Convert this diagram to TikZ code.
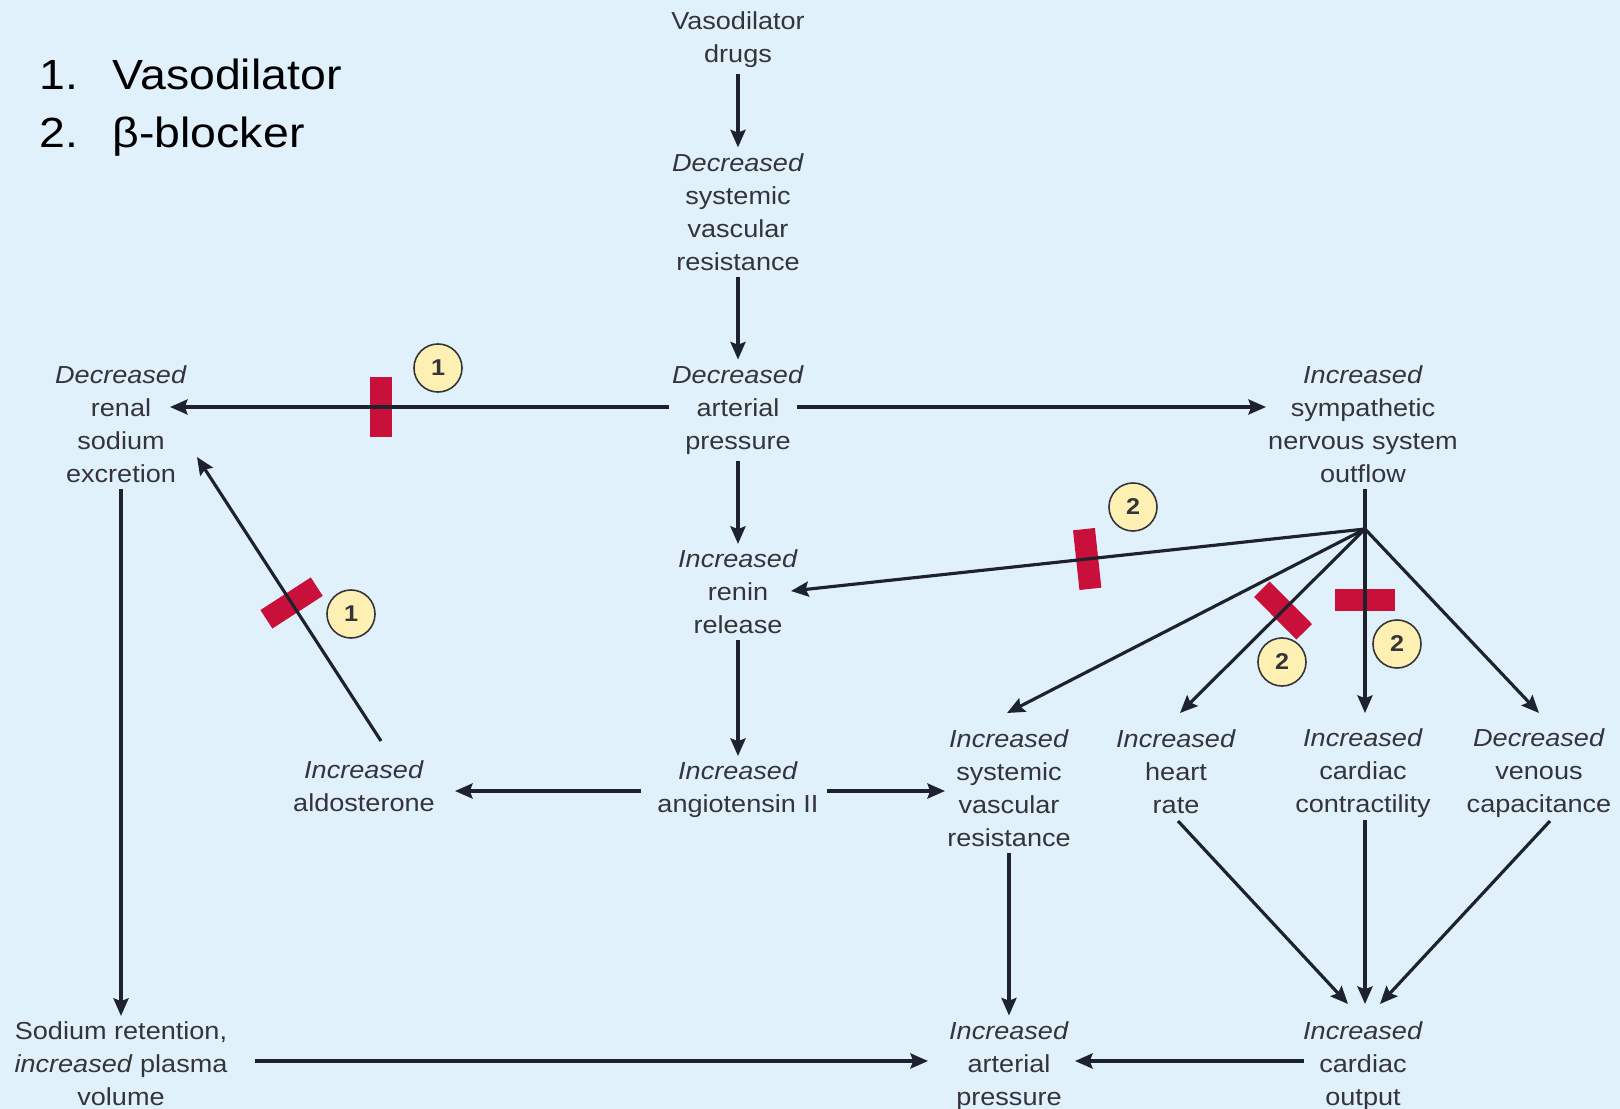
\documentclass[tikz,border=0pt]{standalone}
\usepackage{fontspec}
\setmainfont{Liberation Sans}[FakeStretch=1.1]
\usetikzlibrary{arrows.meta,calc}

\definecolor{bgblue}{RGB}{225,241,252}
\definecolor{txtgray}{RGB}{52,52,58}
\definecolor{arrowgray}{RGB}{30,34,44}
\definecolor{blockred}{RGB}{200,16,58}
\definecolor{badgefill}{RGB}{254,240,178}

\begin{document}
\begin{tikzpicture}[x=0.01cm, y=-0.01cm,
	box/.style={align=center, inner sep=1.5pt, inner xsep=3pt, text=txtgray, font=\fontsize{7}{9.4}\selectfont},
	arr/.style={draw=arrowgray, line width=0.9pt, -{Stealth[length=5pt,width=4.3pt,inset=0.8pt]}},
	link/.style={draw=arrowgray, line width=0.9pt},
	blockbar/.style={sloped, behind path, rectangle, fill=blockred, minimum width=0.22cm, minimum height=0.6cm, inner sep=0pt},
	badge/.style={circle, draw=txtgray, line width=0.45pt, fill=badgefill, minimum size=0.48cm, inner sep=0pt, text=txtgray, font=\fontsize{6.5}{7}\selectfont\bfseries},
	legend/.style={anchor=base west, inner sep=0pt, font=\fontsize{12}{14}\selectfont}]
				\useasboundingbox (0,0) rectangle (1620,1109);
				\fill[bgblue] (0,0) rectangle (1620,1109);
				% legend
				\node[legend] (num1) at (39,90) {1.};
				\node[legend] (leg1) at (112,90) {Vasodilator};
				\node[legend] (num2) at (39,147) {2.};
				\node[legend] (leg2) at (112,147) {β-blocker};
				% central column
				\node[box] (drugs) at (738,40) {Vasodilator\\drugs};
				\node[box] (dsvr) at (738,212) {\textit{Decreased}\\systemic\\vascular\\resistance};
				\node[box] (dap) at (738,410) {\textit{Decreased}\\arterial\\pressure};
				\node[box] (renin) at (738,592) {\textit{Increased}\\renin\\release};
				\node[box] (angio) at (738,790) {\textit{Increased}\\angiotensin II};
				% left side
				\node[box] (renal) at (121,424) {\textit{Decreased}\\renal\\sodium\\excretion};
				\node[box] (aldo) at (364,786) {\textit{Increased}\\aldosterone};
				\node[box] (sodium) at (121,1064) {Sodium retention,\\\textit{increased} plasma\\volume};
				% right side
				\node[box] (sns) at (1363,424) {\textit{Increased}\\sympathetic\\nervous system\\outflow};
				\node[box] (isvr) at (1009,788) {\textit{Increased}\\systemic\\vascular\\resistance};
				\node[box] (hr) at (1176,772) {\textit{Increased}\\heart\\rate};
				\node[box] (cc) at (1363,773) {\textit{Increased}\\cardiac\\contractility};
				\node[box] (vc) at (1539,773) {\textit{Decreased}\\venous\\capacitance};
				\node[box] (iap) at (1009,1066) {\textit{Increased}\\arterial\\pressure};
				\node[box] (co) at (1363,1066) {\textit{Increased}\\cardiac\\output};
				\coordinate (hub) at ($(sns)+(2,105)$);
				% arrows
				\draw[arr] (drugs) -- (dsvr);
				\draw[arr] (dsvr) -- (dap);
				\draw[arr] ($(dap)+(-69,-3)$) -- node[blockbar, pos=0.577] (bar1) {} ($(dap -| renal)+(49,-3)$);
				\draw[arr] ($(dap)+(59,-3)$) -- ($(dap -| sns)+(-97,-3)$);
				\draw[arr] (dap) -- (renin);
				\draw[arr] (renin) -- (angio);
				\draw[arr] ($(angio)+(-97,1)$) -- ($(aldo)+(91,5)$);
				\draw[arr] ($(angio)+(89,1)$) -- ($(angio -| isvr)+(-64,1)$);
				\draw[arr] ($(aldo)+(17,-45)$) -- node[blockbar, pos=0.486] (bar2) {} ($(renal)+(76,33)$);
				\draw[arr] (renal) -- (sodium);
				\draw[arr] ($(sodium)+(134,-3)$) -- ($(sodium -| iap)+(-81,-3)$);
				\draw[arr] (isvr) -- (iap);
				\draw[arr] ($(co)+(-59,-5)$) -- ($(iap)+(66,-5)$);
				\draw[link] (hub |- sns.south) -- (hub);
				\draw[arr] (hub) -- node[blockbar, pos=0.484] (bar3) {} ($(renin)+(53,-1)$);
				\draw[arr] (hub) -- ($(isvr)+(-2,-75)$);
				\draw[arr] (hub) -- node[blockbar, pos=0.443] (bar4) {} ($(hr)+(4,-59)$);
				\draw[arr] (hub) -- node[blockbar, pos=0.386] (bar5) {} ($(hub |- cc)+(0,-60)$);
				\draw[arr] (hub) -- ($(vc)+(0,-60)$);
				\draw[arr] ($(hr)+(2,49)$) -- ($(co)+(-15,-62)$);
				\draw[arr] ($(cc)+(2,47)$) -- ($(co)+(2,-62)$);
				\draw[arr] ($(vc)+(11,48)$) -- ($(co)+(17,-62)$);
				% blocker badges
				\node[badge] (badge1) at (438,368) {1};
				\node[badge] (badge2) at (351,614) {1};
				\node[badge] (badge3) at (1133,507) {2};
				\node[badge] (badge4) at (1282,662) {2};
				\node[badge] (badge5) at (1397,644) {2};
			\end{tikzpicture}
\end{document}
